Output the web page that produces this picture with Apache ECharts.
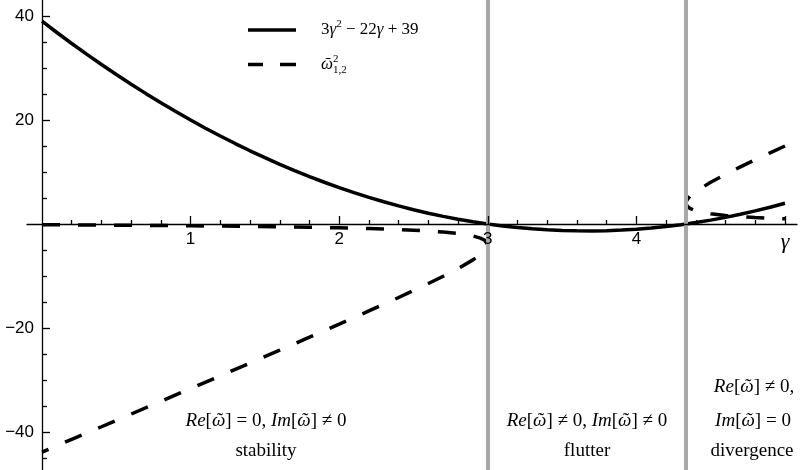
<!DOCTYPE html>
<html><head><meta charset="utf-8">
<script src="https://cdn.jsdelivr.net/npm/echarts@6/dist/echarts.min.js"></script>
<style>html,body{margin:0;padding:0;background:#fff}#c{width:804px;height:470px}</style>
</head><body><div id="c"></div>
<script>
// ---- data ----
const gammaSolid = [0,0.1,0.2,0.3,0.4,0.5,0.6,0.7,0.8,0.9,1,1.1,1.2,1.3,1.4,1.5,1.6,1.7,1.8,1.9,2,2.1,2.2,2.3,2.4,2.5,2.6,2.7,2.8,2.9,3,3.1,3.2,3.3,3.4,3.5,3.6,3.7,3.8,3.9,4,4.1,4.2,4.3,4.4,4.5,4.6,4.7,4.8,4.9,5];
const solidValues = [39,36.83,34.72,32.67,30.68,28.75,26.88,25.07,23.32,21.63,20,18.43,16.92,15.47,14.08,12.75,11.48,10.27,9.12,8.03,7,6.03,5.12,4.27,3.48,2.75,2.08,1.47,0.92,0.43,0,-0.37,-0.68,-0.93,-1.12,-1.25,-1.32,-1.33,-1.28,-1.17,-1,-0.77,-0.48,-0.13,0.28,0.75,1.28,1.87,2.52,3.23,4];

const gammaStab = [0,0.2,0.4,0.6,0.8,1.0,1.2,1.4,1.6,1.8,2.0,2.2,2.4,2.6,2.7,2.8,2.9,2.95,2.98,3.0];
const stabUpper = [-0.14,-0.18,-0.21,-0.25,-0.30,-0.35,-0.40,-0.47,-0.54,-0.63,-0.74,-0.88,-1.07,-1.35,-1.56,-1.84,-2.30,-2.71,-3.12,-4.0];
const stabLower = [-43.86,-41.42,-38.99,-36.55,-34.10,-31.65,-29.20,-26.73,-24.26,-21.77,-19.26,-16.72,-14.13,-11.45,-10.04,-8.56,-6.90,-5.89,-5.12,-4.0];

const gammaDiv = [4.3333,4.34,4.36,4.4,4.5,4.6,4.7,4.8,4.9,5.0];
const divUpper = [4.0,4.61,5.31,6.25,8.03,9.56,10.99,12.36,13.69,15.0];
const divLower = [4.0,3.47,3.01,2.55,1.97,1.64,1.41,1.24,1.11,1.0];

const boundaries = [3, 4.3333];

const xMinorTicks = [0.2,0.4,0.6,0.8,1.2,1.4,1.6,1.8,2.2,2.4,2.6,2.8,3.2,3.4,3.6,3.8,4.2,4.4,4.6,4.8];
const xMajorTicks = [1,2,3,4,5];
const xTickLabels = ['1','2','3','4','γ'];
const yMinorTicks = [-45,-35,-30,-25,-15,-10,-5,5,10,15,25,30,35];
const yMajorTicks = [-40,-20,20,40];
const yTickLabels = ['−40','−20','20','40'];

// ---- build series data ----
const solidData = gammaSolid.map((g, i) => [g, solidValues[i]]);
const stabPath = gammaStab.map((g, i) => [g, stabUpper[i]])
  .concat(gammaStab.slice(0, -1).map((g, i) => [g, stabLower[i]]).reverse());
const divPath = gammaDiv.map((g, i) => [g, divUpper[i]]).reverse()
  .concat(gammaDiv.slice(1).map((g, i) => [g, divLower[i + 1]]));

const SERIF = "'Liberation Serif','DejaVu Serif',serif";
const SANS = "'Liberation Sans',Arial,sans-serif";
const X_MIN = -0.101, X_MAX = 5.081, Y_MIN = -47.31, Y_MAX = 43.08;

const chart = echarts.init(document.getElementById('c'), null, {renderer: 'canvas'});

const axisLineStyle = {color: '#000', width: 1.3};
const dash = [18, 18];
const OMEGA = 'ῶ';

const textRich = {
  n: {fontFamily: SERIF, fontSize: 19, color: '#000'},
  i: {fontFamily: SERIF, fontSize: 19, fontStyle: 'italic', color: '#000'}
};
function regionText(x, y, text) {
  return {
    type: 'text', x: x, y: y, silent: true, z: 100,
    style: {
      text: text, rich: textRich, fontFamily: SERIF, fontSize: 19, fill: '#000',
      align: 'center', verticalAlign: 'middle', textAlign: 'center', textVerticalAlign: 'middle'
    }
  };
}
function hiddenAxis(type, grid, min, max) {
  return {type: 'value', gridIndex: grid, min: min, max: max, show: false,
          axisLine: {show: false, onZero: false}, axisTick: {show: false},
          axisLabel: {show: false}, splitLine: {show: false}};
}

const option = {
  animation: false,
  backgroundColor: '#fff',
  grid: [
    {left: 27, right: 7, top: 0, bottom: 0, containLabel: false, outerBoundsMode: 'none'},  // data
    {left: 27, right: 7, top: 0, bottom: 246, containLabel: false, outerBoundsMode: 'none'}, // x axis at y=0
    {left: 42, right: 7, top: 0, bottom: 0, containLabel: false, outerBoundsMode: 'none'}   // y axis at x=0
  ],
  legend: {
    orient: 'vertical', left: 243, top: 14, itemWidth: 48, itemHeight: 3.5, itemGap: 15,
    symbolKeepAspect: false, selectedMode: false,
    data: [
      {name: 'f', icon: 'path://M0,0h48v1h-48z'},
      {name: 'w', icon: 'path://M0,0h15v1h-15zM32,0h16v1h-16z'}
    ],
    formatter: function (n) {
      return n === 'f'
        ? '{gap|}{t|3}{it|γ}{sup|2}{t| − 22}{it|γ}{t| + 39}'
        : '{gap|}{it|' + OMEGA + '}{sup0|2}{sub|1,2}';
    },
    textStyle: {
      fontFamily: SERIF, fontSize: 17, color: '#000',
      rich: {
        gap: {width: 20},
        t: {fontFamily: SERIF, fontSize: 17, color: '#000', lineHeight: 22},
        it: {fontFamily: SERIF, fontSize: 17, fontStyle: 'italic', color: '#000', lineHeight: 22},
        sup: {fontFamily: SERIF, fontSize: 11, color: '#000', verticalAlign: 'top', lineHeight: 12},
        sup0: {fontFamily: SERIF, fontSize: 11, color: '#000', verticalAlign: 'top', lineHeight: 12, width: 0},
        sub: {fontFamily: SERIF, fontSize: 11, color: '#000', verticalAlign: 'bottom', lineHeight: 12}
      }
    }
  },
  xAxis: [
    hiddenAxis('x', 0, X_MIN, X_MAX),
    {
      type: 'value', gridIndex: 1, min: X_MIN, max: X_MAX, position: 'bottom', z: 5,
      axisLine: {show: true, onZero: false, lineStyle: axisLineStyle},
      axisTick: {show: true, inside: true, length: 4, customValues: xMinorTicks, lineStyle: axisLineStyle},
      axisLabel: {
        show: true, margin: 7, customValues: xMajorTicks,
        formatter: function (v) {
          const idx = xMajorTicks.indexOf(v);
          const s = idx >= 0 ? xTickLabels[idx] : '';
          return s === 'γ' ? '{g|γ}' : s;
        },
        fontFamily: SANS, fontSize: 17, color: '#000',
        rich: {g: {fontFamily: SERIF, fontSize: 22, fontStyle: 'italic', color: '#000'}}
      },
      splitLine: {show: false}
    }, {
      type: 'value', gridIndex: 1, min: X_MIN, max: X_MAX, position: 'bottom', z: 5,
      axisLine: {show: false, onZero: false},
      axisTick: {show: true, inside: true, length: 8, customValues: xMajorTicks, lineStyle: axisLineStyle},
      axisLabel: {show: false},
      splitLine: {show: false}
    },
    hiddenAxis('x', 2, 0, X_MAX)
  ],
  yAxis: [
    hiddenAxis('y', 0, Y_MIN, Y_MAX),
    hiddenAxis('y', 1, 0, Y_MAX),
    {
      type: 'value', gridIndex: 2, min: Y_MIN, max: Y_MAX, position: 'left', z: 5,
      axisLine: {show: true, onZero: false, lineStyle: axisLineStyle},
      axisTick: {show: true, inside: true, length: 5, customValues: yMinorTicks, lineStyle: axisLineStyle},
      axisLabel: {
        show: true, margin: 8, customValues: yMajorTicks,
        formatter: function (v) {
          const idx = yMajorTicks.indexOf(v);
          return idx >= 0 ? yTickLabels[idx] : '';
        },
        fontFamily: SANS, fontSize: 17, color: '#000'
      },
      splitLine: {show: false}
    }, {
      type: 'value', gridIndex: 2, min: Y_MIN, max: Y_MAX, position: 'left', z: 5,
      axisLine: {show: false, onZero: false},
      axisTick: {show: true, inside: true, length: 8, customValues: yMajorTicks, lineStyle: axisLineStyle},
      axisLabel: {show: false},
      splitLine: {show: false}
    }
  ],
  series: [{
    name: 'f', type: 'line', xAxisIndex: 0, yAxisIndex: 0, data: solidData,
    symbol: 'none', smooth: false, z: 2,
    lineStyle: {color: '#000', width: 3.5, type: 'solid'},
    itemStyle: {color: '#000'},
    markLine: {
      silent: true, symbol: 'none', label: {show: false}, z: 3,
      lineStyle: {color: '#a8a8a8', width: 4, type: 'solid'},
      emphasis: {disabled: true},
      data: boundaries.map(b => ({xAxis: b}))
    }
  }, {
    name: 'w', type: 'line', xAxisIndex: 0, yAxisIndex: 0, data: stabPath,
    symbol: 'none', smooth: false, z: 2,
    lineStyle: {color: '#000', width: 3.5, type: dash},
    itemStyle: {color: '#000'}
  }, {
    name: 'w', type: 'line', xAxisIndex: 0, yAxisIndex: 0, data: divPath,
    symbol: 'none', smooth: false, z: 2,
    lineStyle: {color: '#000', width: 3.5, type: dash},
    itemStyle: {color: '#000'}
  }],
  graphic: [
    regionText(266, 421, '{i|Re}{n|[}{i|' + OMEGA + '}{n|] = 0, }{i|Im}{n|[}{i|' + OMEGA + '}{n|] ≠ 0}'),
    regionText(266, 451, '{n|stability}'),
    regionText(587, 421, '{i|Re}{n|[}{i|' + OMEGA + '}{n|] ≠ 0, }{i|Im}{n|[}{i|' + OMEGA + '}{n|] ≠ 0}'),
    regionText(587, 451, '{n|flutter}'),
    regionText(754, 387, '{i|Re}{n|[}{i|' + OMEGA + '}{n|] ≠ 0,}'),
    regionText(753, 421, '{i|Im}{n|[}{i|' + OMEGA + '}{n|] = 0}'),
    regionText(752, 451, '{n|divergence}')
  ]
};
chart.setOption(option);
</script>
</body></html>
